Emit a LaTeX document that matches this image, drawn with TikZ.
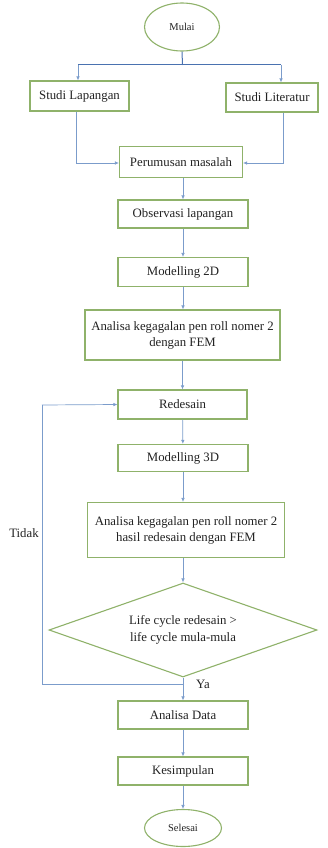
\documentclass[tikz,border=0pt]{standalone}
\usepackage{fontspec}
\setmainfont{Liberation Serif}
\usetikzlibrary{shapes.geometric,arrows.meta,calc}
\definecolor{boxgreen}{HTML}{8FB26A}
\definecolor{linkblue}{HTML}{7B9CCB}
\definecolor{forkblue}{HTML}{4A72B0}
\definecolor{txt}{HTML}{222222}
\tikzset{
  box/.style={draw=boxgreen, line width=1.1pt, fill=white, rectangle, inner sep=1pt, align=center, font=\fontsize{12.8}{16}\selectfont, text=txt},
  term/.style={draw=boxgreen, line width=1.1pt, fill=white, ellipse, inner sep=0pt, font=\fontsize{10.5}{12}\selectfont, text=txt},
  dec/.style={draw=boxgreen, line width=1.1pt, fill=white, diamond, aspect=2.85, inner sep=0pt, align=center, font=\fontsize{12.8}{17}\selectfont, text=txt},
  link/.style={draw=linkblue, line width=0.7pt, -{Latex[length=4pt,width=3.5pt]}},
  plain/.style={draw=linkblue, line width=0.7pt},
  fork/.style={draw=forkblue, line width=1pt},
  lbl/.style={font=\fontsize{12.8}{14}\selectfont, text=txt, inner sep=0pt}
}
\begin{document}
\begin{tikzpicture}[x=1pt,y=-1pt]
\useasboundingbox (0,0) rectangle (328,848);
\node[term, minimum width=75pt, minimum height=48pt] (mulai) at (182,27) {Mulai};
\node[box, minimum width=99pt, minimum height=30pt] (sl) at (79.5,96) {Studi Lapangan};
\node[box, minimum width=92pt, minimum height=29pt] (slit) at (272,97.5) {Studi Literatur};
\node[box, minimum width=123pt, minimum height=31pt] (per) at (181,162) {Perumusan masalah};
\node[box, minimum width=130pt, minimum height=28pt] (obs) at (183,214) {Observasi lapangan};
\node[box, minimum width=130pt, minimum height=29pt] (m2d) at (183,272) {Modelling 2D};
\node[box, minimum width=195pt, minimum height=50pt] (an1) at (182.5,335) {Analisa kegagalan pen roll nomer 2\\dengan FEM};
\node[box, minimum width=129pt, minimum height=29pt] (red) at (182.5,404.5) {Redesain};
\node[box, minimum width=130pt, minimum height=27pt] (m3d) at (183,458) {Modelling 3D};
\node[box, minimum width=197pt, minimum height=55pt] (an2) at (186,530) {Analisa kegagalan pen roll nomer 2\\hasil redesain dengan FEM};
\node[dec, minimum width=268pt, minimum height=94pt] (dia) at (183,630) {Life cycle redesain >\\life cycle mula-mula};
\node[box, minimum width=130pt, minimum height=28pt] (ad) at (183,715) {Analisa Data};
\node[box, minimum width=130pt, minimum height=28pt] (kes) at (183,771) {Kesimpulan};
\node[term, minimum width=77pt, minimum height=37pt] (sel) at (183,828) {Selesai};
\coordinate (fk) at (182.5,65);
\coordinate (fl) at (78,65);
\coordinate (fr) at (281,65);
\coordinate (jl) at (76,163);
\coordinate (jr) at (283,163);
\coordinate (lb) at (42,684);
\coordinate (lt) at (42,405);
\coordinate (ym) at (183,684);
% fork
\draw[fork] (mulai.south) -- (fk);
\draw[fork] (fl) -- (fr);
\draw[link] (fl) -- (fl |- sl.north);
\draw[link] (fr) -- (fr |- slit.north);
% joins
\draw[link] (sl.south -| jl) -- (jl) -- (jl -| per.west);
\draw[link] (slit.south -| jr) -- (jr) -- (jr -| per.east);
% main chain
\draw[link] (per.south -| obs.north) -- (obs.north);
\draw[link] (obs) -- (m2d);
\draw[link] (m2d) -- (an1.north -| m2d);
\draw[link] (an1.south -| red) -- (red);
\draw[link] (red) -- (m3d);
\draw[link] (m3d) -- (an2.north -| m3d);
\draw[link] (an2.south -| dia) -- (dia);
\draw[link] (dia) -- (ad);
\draw[link] (ad) -- (kes);
\draw[link] (kes) -- (sel);
% loop
\draw[plain] (ym) -- (lb) -- (lt);
\draw[link] (lt) -- (red.west);
\node[lbl] (tidak) at (24,533) {Tidak};
\node[lbl] (ya) at (203,684) {Ya};
\end{tikzpicture}
\end{document}
